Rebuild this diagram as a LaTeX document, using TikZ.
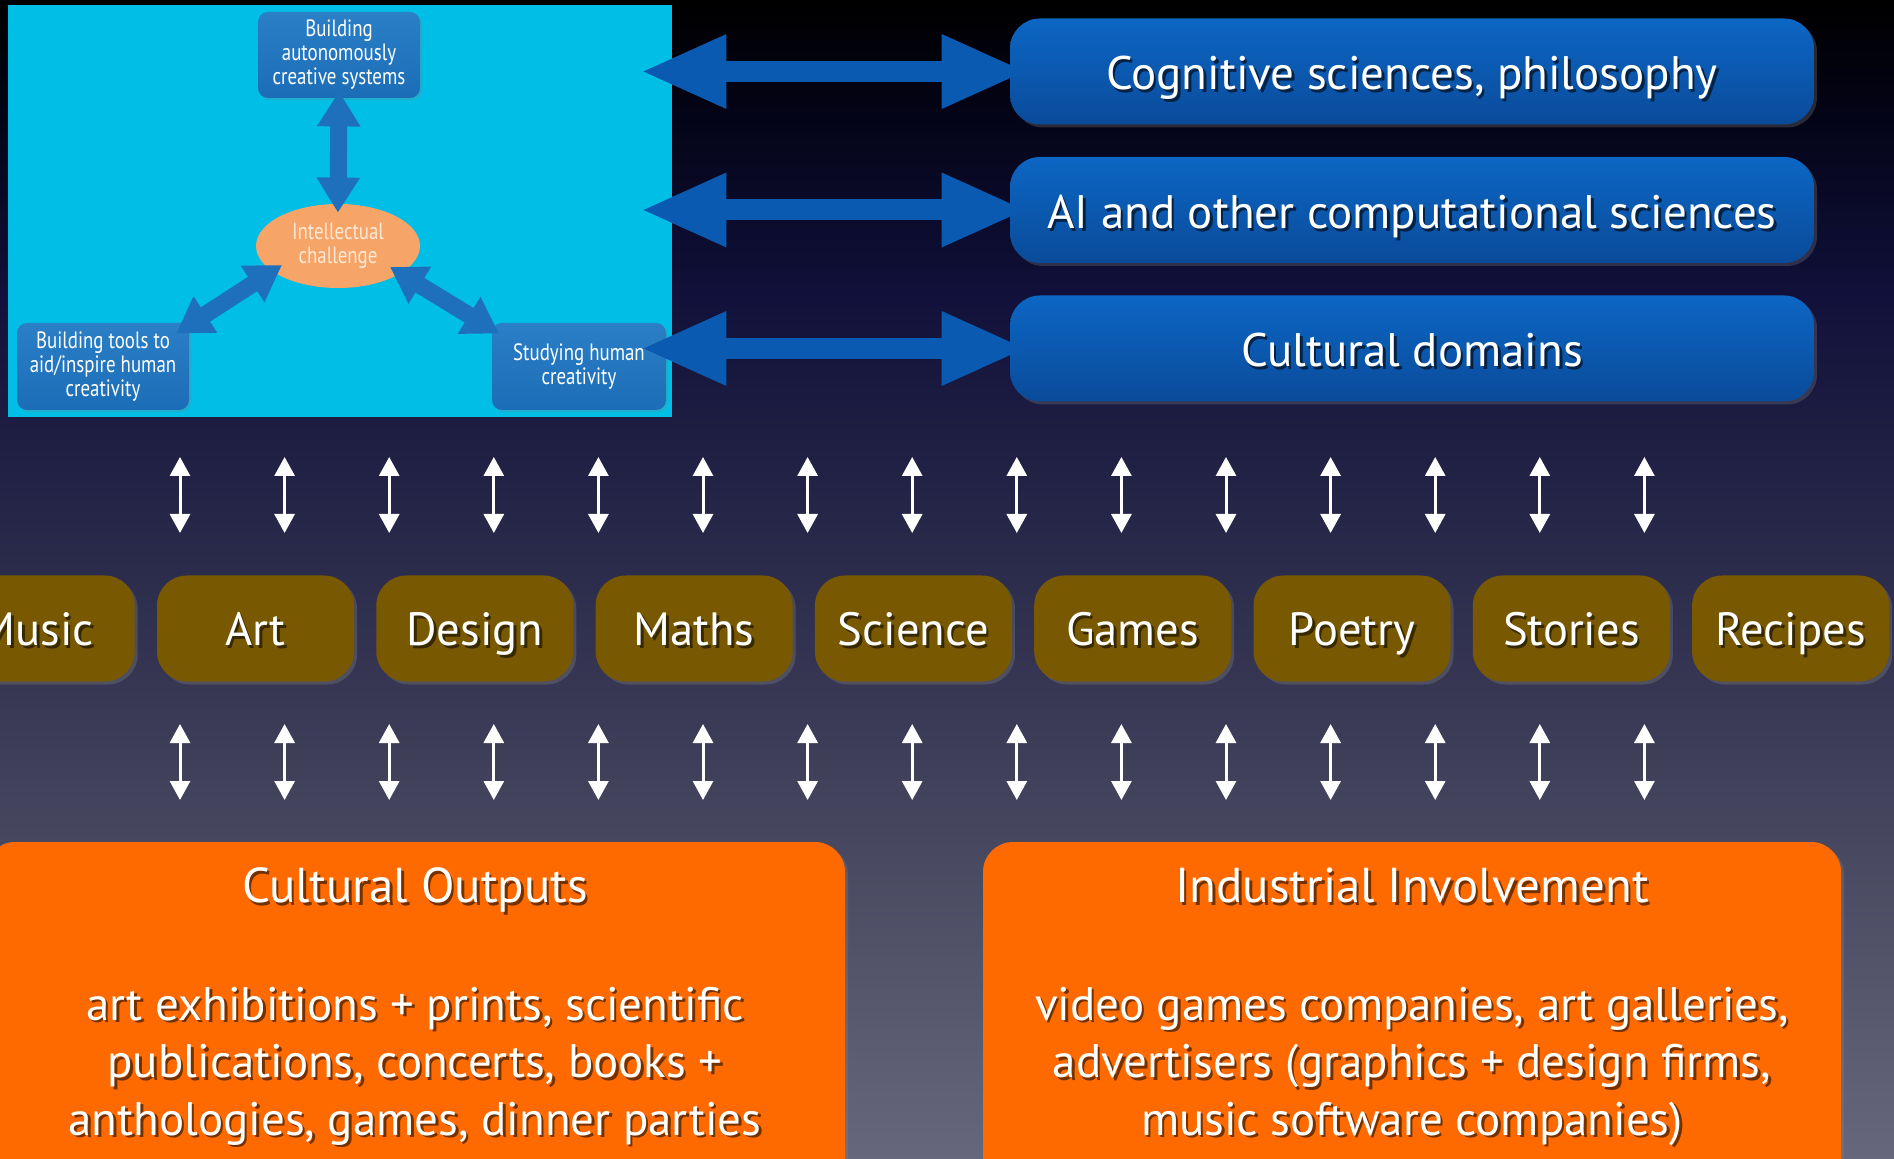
\documentclass[tikz,border=0pt]{standalone}
\usepackage{fontspec}
\setmainfont{PT Sans}
\newfontfamily\panelfont[FakeStretch=0.8]{PT Sans}
\usetikzlibrary{arrows.meta,shadows,shapes.geometric}

\definecolor{panelcyan}{HTML}{00BEE6}
\definecolor{panelblue}{HTML}{1C6DB7}
\definecolor{panelbluetop}{HTML}{2A7FC6}
\definecolor{panelarrow}{HTML}{1E70BC}
\definecolor{peach}{HTML}{F7A468}
\definecolor{peachtext}{HTML}{FFE9D6}
\definecolor{arrowblue}{HTML}{0B5AB2}
\definecolor{boxbluetop}{HTML}{0C66C4}
\definecolor{boxbluebot}{HTML}{0A4B9A}
\definecolor{domainbrown}{HTML}{785800}
\definecolor{outorange}{HTML}{FF6A00}
\definecolor{bg0}{HTML}{000000}
\definecolor{bg1}{HTML}{030314}
\definecolor{bg2}{HTML}{10103A}
\definecolor{bg3}{HTML}{2C2C4C}
\definecolor{bg4}{HTML}{4A4A62}
\definecolor{bg5}{HTML}{66667C}
\colorlet{txtshadow}{black}

% backdrop: black at the top, navy in the middle, grey-blue at the foot
\pgfdeclareverticalshading{backdrop}{100bp}{%
  color(0bp)=(bg5); color(25bp)=(bg5); color(37.5bp)=(bg4); color(50bp)=(bg3);
  color(62.5bp)=(bg2); color(70.7bp)=(bg1); color(75bp)=(bg0); color(100bp)=(bg0)}

% white text with a dark offset copy underneath
\newcommand\shtext[1]{\leavevmode\rlap{\kern1.3pt\raisebox{-1.3pt}{\textcolor{txtshadow}{#1}}}#1}

\begin{document}
\begin{tikzpicture}[x=0.5pt,y=-0.5pt,
  panelbg/.style={fill=panelcyan, inner sep=0pt, minimum width=332pt, minimum height=206pt},
  pbox/.style={rounded corners=5pt, top color=panelbluetop, bottom color=panelblue, inner sep=0pt,
    text=white, align=center, font=\panelfont\fontsize{11.8}{12}\selectfont,
    drop shadow={opacity=0.25, shadow xshift=1pt, shadow yshift=-1pt}},
  pell/.style={ellipse, fill=peach, inner sep=0pt, minimum width=82pt, minimum height=42pt,
    text=peachtext, align=center, font=\panelfont\fontsize{11.8}{12}\selectfont},
  parrow/.style={draw=panelarrow, line width=8.5pt,
    arrows={Triangle[width=20.5pt,length=17.5pt]-Triangle[width=20.5pt,length=17.5pt]}},
  bigarrow/.style={draw=arrowblue, line width=10.5pt,
    arrows={Triangle[width=34pt,length=43pt]-Triangle[width=34pt,length=43pt]}},
  bluebox/.style={rounded corners=15pt, top color=boxbluetop, bottom color=boxbluebot,
    minimum width=402pt, minimum height=53pt, inner sep=0pt, text=white,
    font=\colorlet{txtshadow}{boxbluebot!45!black}\fontsize{23.5}{28}\selectfont,
    text height=18.5pt, text depth=0pt,
    drop shadow={opacity=0.3, shadow xshift=1.5pt, shadow yshift=-1.5pt}},
  domainbox/.style={rounded corners=15pt, fill=domainbrown, minimum width=98.5pt, minimum height=53pt,
    inner sep=0pt, text=white,
    font=\colorlet{txtshadow}{domainbrown!45!black}\fontsize{23.3}{28}\selectfont,
    text height=17pt, text depth=0pt,
    drop shadow={opacity=0.35, shadow xshift=1.5pt, shadow yshift=-1.5pt}},
  linkarrow/.style={draw=white, line width=1.5pt,
    arrows={Triangle[width=10pt,length=9.5pt]-Triangle[width=10pt,length=9.5pt]}},
  outbox/.style={rounded corners=15pt, fill=outorange, minimum height=200pt, inner sep=0pt,
    drop shadow={opacity=0.35, shadow xshift=1.5pt, shadow yshift=-1.5pt}},
  headtext/.style={text=white, inner sep=0pt,
    font=\colorlet{txtshadow}{outorange!45!black}\fontsize{24.5}{28}\selectfont},
  bodytext/.style={text=white, inner sep=0pt, align=center,
    font=\colorlet{txtshadow}{outorange!45!black}\fontsize{23.5}{28.75}\selectfont}
]
\useasboundingbox (0,0) rectangle (1894,1159);
\clip (0,0) rectangle (1894,1159);

% backdrop
\shade[shading=backdrop] (0,0) rectangle (1894,1159);

% ---- embedded triangle diagram ----
\node[panelbg] (panel) at (340,211) {};
\node[pbox, minimum width=81pt, minimum height=43pt] (auto) at (339,55)
  {Building\\autonomously\\creative systems};
\node[pell] (chal) at (338,246) {Intellectual\\challenge};
\node[pbox, minimum width=86pt, minimum height=43.5pt] (tools) at (103,366.5)
  {Building tools to\\aid/inspire human\\creativity};
\node[pbox, minimum width=87pt, minimum height=43.5pt] (study) at (579,366.5)
  {Studying human\\creativity};

\draw[parrow, shorten <=-3.5pt, shorten >=-4.5pt] (auto.south) -- (chal.north);
\draw[parrow] ([shift={(-56,19)}]chal.center) -- ([shift={(73,-33)}]tools.center);
\draw[parrow] ([shift={(52,21)}]chal.center) -- ([shift={(-80,-33)}]study.center);

% ---- related fields ----
\node[bluebox] (cog) at (1412,71.5) {\shtext{Cognitive sciences, philosophy}};
\node[bluebox] (ai) at (1412,210) {\shtext{AI and other computational sciences}};
\node[bluebox] (cult) at (1412,348.5) {\shtext{Cultural domains}};

\foreach \target in {cog,ai,cult}
  \draw[bigarrow, shorten <=-16pt, shorten >=-9pt] (panel.east |- \target.west) -- (\target.west);

% ---- domains ----
\foreach \name [count=\k from 0] in {Music,Art,Design,Maths,Science,Games,Poetry,Stories,Recipes}
  \node[domainbox] (dom\k) at ({36.2+219.3*\k},628.5) {\shtext{\name}};

% ---- two rows of small two-way arrows ----
\foreach \i in {0,...,14} {
  \coordinate (ut\i) at ({180+104.6*\i},457);
  \coordinate (ub\i) at ({180+104.6*\i},533);
  \coordinate (lt\i) at ({180+104.6*\i},724);
  \coordinate (lb\i) at ({180+104.6*\i},800);
  \draw[linkarrow] (ut\i) -- (ub\i);
  \draw[linkarrow] (lt\i) -- (lb\i);
}

% ---- outputs and industry ----
\node[outbox, minimum width=430pt] (outputs) at (415,1042) {};
\node[outbox, minimum width=429pt] (industry) at (1412,1042) {};

\node[headtext, anchor=base] (outputshead) at ([shift={(0,61)}]outputs.north) {\shtext{Cultural Outputs}};
\node[headtext, anchor=base] (industryhead) at ([shift={(0,61)}]industry.north) {\shtext{Industrial Involvement}};

\node[bodytext, anchor=north] (outputsbody) at ([shift={(0,142)}]outputs.north)
  {\rule{0pt}{18pt}\shtext{art exhibitions + prints, scientific}\\
   \shtext{publications, concerts, books +}\\
   \shtext{anthologies, games, dinner parties}};
\node[bodytext, anchor=north] (industrybody) at ([shift={(0,142)}]industry.north)
  {\rule{0pt}{18pt}\shtext{video games companies, art galleries,}\\
   \shtext{advertisers (graphics + design firms,}\\
   \shtext{music software companies)}};
\end{tikzpicture}
\end{document}
